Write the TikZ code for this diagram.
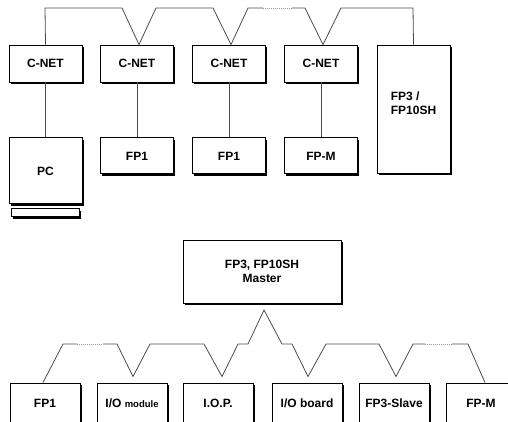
\documentclass[tikz,border=0pt]{standalone}
\usepackage{fontspec}
\setmainfont{Liberation Sans}
\usetikzlibrary{shadows, positioning}

\begin{document}
\begin{tikzpicture}[
    x=1pt, y=-1pt,
    unit/.style={rectangle, draw=black, fill=white, line width=0.9pt, inner sep=0pt, font=\fontsize{12}{14}\selectfont\bfseries, drop shadow={fill=black, opacity=1, shadow xshift=1.8pt, shadow yshift=-1.8pt}},
    netbox/.style={unit, minimum width=73pt, minimum height=37pt},
    slavebox/.style={unit, minimum width=70pt, minimum height=40pt},
    bus/.style={draw=black!70, line width=0.8pt},
    gap/.style={draw=black!40, line width=0.8pt, dash pattern=on 1pt off 1pt}
]
\useasboundingbox (0,0) rectangle (508,421);
\clip (0,0) rectangle (508,421);

% Top network
\node[netbox] (cnet1) at (45.5,63.5) {C-NET};
\node[netbox] (cnet2) at (137,63.5) {C-NET};
\node[netbox] (cnet3) at (229,63.5) {C-NET};
\node[netbox] (cnet4) at (321,63.5) {C-NET};
\node[unit, minimum width=73pt, minimum height=128pt] (fp3) at (413.5,109) {};
\node[font=\fontsize{12}{14}\selectfont\bfseries, align=left] (fp3text) at ([yshift=6pt]fp3.center) {FP3 /\\FP10SH};

% Stations
\node[netbox, minimum height=66pt, below=55pt of cnet1] (pc) {PC};
\node[unit, minimum width=68pt, minimum height=8pt, line width=0.7pt, below=4pt of pc] (kbd) {};
\node[netbox, minimum height=36pt, below=55pt of cnet2] (fp1a) {FP1};
\node[netbox, minimum height=36pt, below=55pt of cnet3] (fp1b) {FP1};
\node[netbox, minimum height=36pt, below=55pt of cnet4] (fpm) {FP-M};

\draw[bus] (cnet1) -- (pc);
\draw[bus] (cnet2) -- (fp1a);
\draw[bus] (cnet3) -- (fp1b);
\draw[bus] (cnet4) -- (fpm);

% Top bus
\draw[bus] (cnet1.north) -- (45,8) -- (122,8) -- ([xshift=2pt]cnet2.north) -- (156,8) -- (213,8)
    -- ([xshift=2pt]cnet3.north) -- (248,8) -- (263,8);
\draw[gap] (263,8) -- (292,8);
\draw[bus] (292,8) -- (305,8) -- ([xshift=2pt]cnet4.north) -- (341,8) -- (413,8) -- (fp3.north);

% Master network
\node[unit, minimum width=158pt, minimum height=63pt, align=center] (master) at (262,271.5) {FP3, FP10SH\\Master};

\node[slavebox] (s1) at (45,403) {FP1};
\node[slavebox] (s2) at (132,403) {I/O {\fontsize{9.5}{10}\selectfont module}};
\node[slavebox] (s3) at (218,403) {I.O.P.};
\node[slavebox] (s4) at (307,403) {I/O board};
\node[slavebox] (s5) at (394,403) {FP3-Slave};
\node[slavebox] (s6) at (481,403) {FP-M};

\coordinate (peak) at (264,310);

% Lower bus
\draw[bus] ([xshift=-2pt]s1.north) -- (63,344) -- (77,344);
\draw[gap] (77,344) -- (103,344);
\draw[bus] (103,344) -- (117,344) -- ([shift={(1pt,6pt)}]s2.north) -- (150,344) -- (204,344)
    -- ([shift={(4pt,6pt)}]s3.north) -- (238,344) -- (248,344) -- (peak) -- (282,344) -- (292,344)
    -- ([shift={(1pt,6pt)}]s4.north) -- (326,344) -- (379,344) -- ([shift={(2pt,6pt)}]s5.north)
    -- (413,344) -- (425,344);
\draw[gap] (425,344) -- (452,344);
\draw[bus] (452,344) -- (468,344) -- ([xshift=4pt]s6.north);

\end{tikzpicture}
\end{document}
